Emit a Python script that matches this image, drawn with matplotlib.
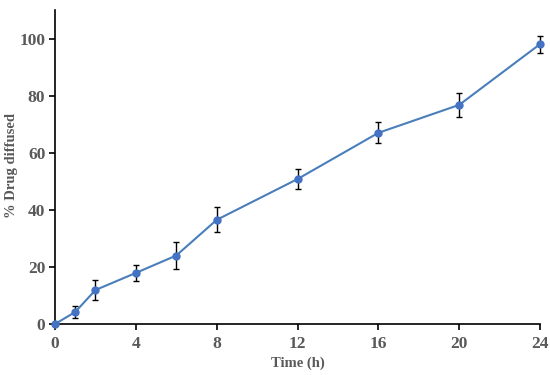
import matplotlib
matplotlib.use('Agg')
import matplotlib.pyplot as plt

# diffusion data
time_h = [0, 1, 2, 4, 6, 8, 12, 16, 20, 24]
drug_pct = [0, 4.2, 11.9, 17.9, 24.0, 36.5, 50.8, 67.0, 76.8, 98.1]
drug_err = [0, 2.2, 3.5, 2.7, 4.6, 4.4, 3.6, 3.7, 4.2, 3.0]
xticks = [0, 4, 8, 12, 16, 20, 24]
yticks = [0, 20, 40, 60, 80, 100]

plt.rcParams['font.family'] = ['Liberation Serif', 'DejaVu Serif']
grey = '#595959'

fig = plt.figure(figsize=(5.5, 3.75), dpi=100)
ax = fig.add_axes([0.1, 0.136, 0.882, 0.837])

ax.errorbar(time_h, drug_pct, yerr=drug_err, color='#4A7EBB', lw=1.5,
            marker='o', ms=5, mfc='#4472C4', mec='#4472C4', ecolor='black',
            elinewidth=1, capsize=2.5, capthick=1, zorder=3, clip_on=False)

ax.set_xlim(0, 24)
ax.set_ylim(0, 110)
ax.set_xticks(xticks)
ax.set_yticks(yticks)
for s in ['top', 'right']:
    ax.spines[s].set_visible(False)
for s in ['left', 'bottom']:
    ax.spines[s].set_linewidth(1.2)
ax.tick_params(axis='x', pad=5)
ax.tick_params(axis='y', pad=3)
ax.tick_params(direction='out', length=4, width=1.2, colors='black',
               labelcolor=grey, labelsize=12.5)
for lab in ax.get_xticklabels() + ax.get_yticklabels():
    lab.set_fontweight('bold')

ax.set_xlabel('Time (h)', fontsize=10.5, fontweight='bold', color=grey)
ax.set_ylabel('% Drug diffused', fontsize=10.5, fontweight='bold', color=grey)
ax.xaxis.label.set_va('center')
ax.yaxis.label.set_va('center')
ax.xaxis.set_label_coords(0.5, -0.124)
ax.yaxis.set_label_coords(-0.09, 0.505)

fig.savefig('out.png', dpi=100)
